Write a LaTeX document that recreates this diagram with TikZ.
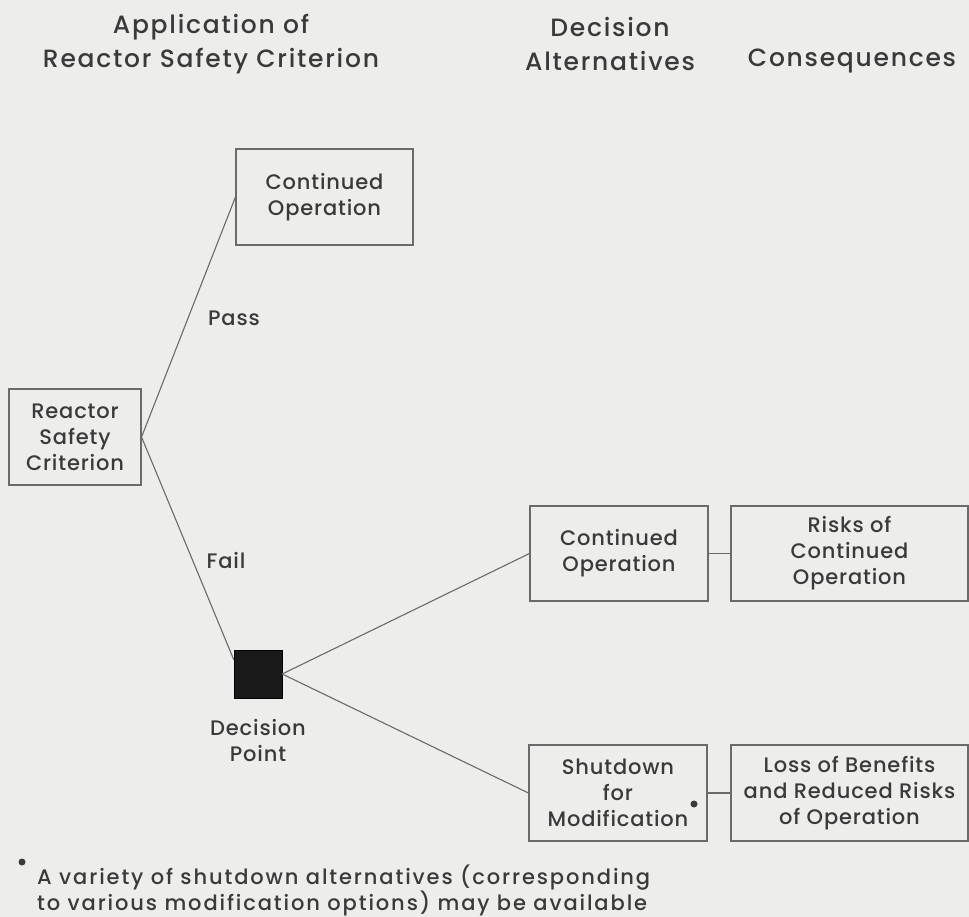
\documentclass[tikz,border=0pt]{standalone}
\usepackage{fontspec}
\setmainfont{Poppins Medium}
\definecolor{bgc}{HTML}{EDEDEB}
\definecolor{inkc}{HTML}{3A3A3A}
\definecolor{linec}{HTML}{6A6A6A}
\begin{document}
\begin{tikzpicture}[x=1pt,y=-1pt,
  every node/.style={text=inkc},
  box/.style={draw=linec, line width=1.1pt, align=center, inner sep=0pt,
    font=\fontsize{21}{26}\selectfont\addfontfeatures{LetterSpace=4}},
  lbl/.style={align=center, inner sep=0pt, font=\fontsize{21}{26}\selectfont\addfontfeatures{LetterSpace=4}},
  head/.style={align=center, inner sep=0pt, font=\fontsize{25}{34}\selectfont\addfontfeatures{LetterSpace=7}},
  note/.style={align=left, inner sep=0pt, font=\fontsize{21}{26}\selectfont\addfontfeatures{LetterSpace=9}},
  dot/.style={circle, fill=inkc, inner sep=0pt, minimum size=7pt},
  conn/.style={draw=linec, line width=1.1pt}]
\fill[bgc] (0,0) rectangle (969,917);
\useasboundingbox (0,0) rectangle (969,917);

% column headings
\node[head] (h1) at (211,44) {Application of\\Reactor Safety Criterion};
\node[head] (h2) at (610,44) {Decision\\Alternatives};
\node[head] (h3) at (852,61) {Consequences};

% boxes
\node[box, minimum width=177pt, minimum height=96pt] (cotop) at (324.5,197) {Continued\\Operation};
\node[box, minimum width=132pt, minimum height=96pt] (rsc) at (75,437) {Reactor\\Safety\\Criterion};
\node[box, minimum width=178pt, minimum height=95pt] (comid) at (619,553.5) {Continued\\Operation};
\node[box, minimum width=237pt, minimum height=95pt] (risk) at (849.5,553.5) {Risks of\\Continued\\Operation};
\node[box, minimum width=178pt, minimum height=96pt] (shut) at (618,793) {Shutdown\\for\\Modification};
\node[box, minimum width=237pt, minimum height=96pt] (loss) at (849.5,793) {Loss of Benefits\\and Reduced Risks\\of Operation};

% decision point
\node[fill=black!90, draw=black, minimum size=48pt, inner sep=0pt] (dp) at (258,674) {};
\node[lbl] (dptxt) at (258,741) {Decision\\Point};

% branch labels
\node[lbl] (pass) at (234,318) {Pass};
\node[lbl] (fail) at (226,561) {Fail};

% connectors
\coordinate (rsce) at (rsc.east);
\draw[conn] (rsce) -- (cotop.west);
\draw[conn] (rsce) -- ([yshift=-10pt]dp.north west);
\draw[conn] (dp.east) -- (comid.west);
\draw[conn] (dp.east) -- (shut.west);
\draw[conn] (comid.east) -- (risk.west);
\draw[conn] (shut.east) -- (loss.west);

% footnote marker and note
\node[dot] (ast) at (694,804) {};
\node[dot] (fnm) at (22,862) {};
\node[note, anchor=base west] (note) at (37,910) {A variety of shutdown alternatives (corresponding\\to various modification options) may be available};
\end{tikzpicture}
\end{document}
